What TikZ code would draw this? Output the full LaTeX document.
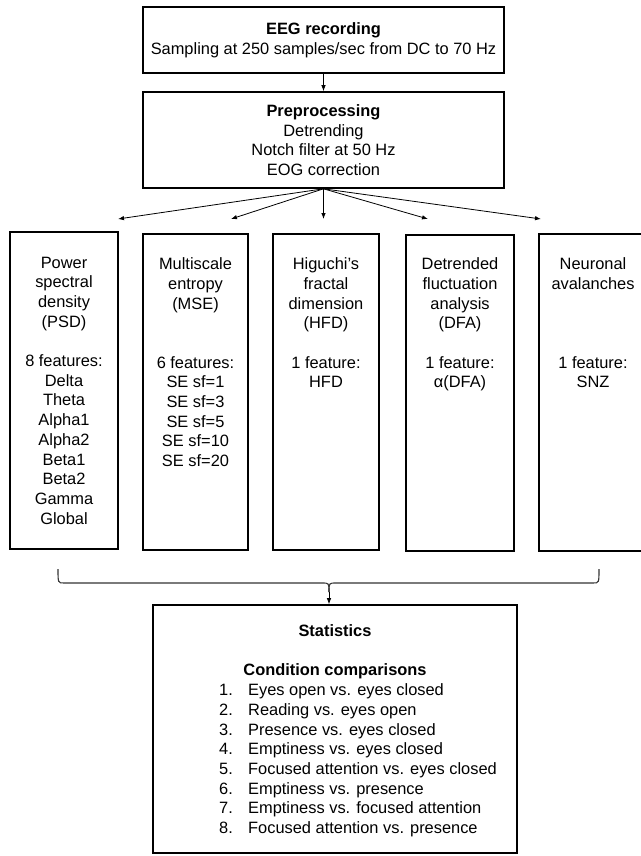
\documentclass[tikz,border=0pt]{standalone}
\usepackage{fontspec}
\setmainfont{Liberation Sans}
\usetikzlibrary{arrows.meta}
\begin{document}
\begin{tikzpicture}[x=1pt,y=-1pt,
  box/.style={draw, line width=1.6pt, inner sep=0pt},
  txt/.style={font=\fontsize{16.4}{19.7}\selectfont, align=center, inner sep=0pt},
  arr/.style={line width=0.8pt, -{Latex[length=6pt,width=4.5pt]}},
  bracel/.style={line width=1.1pt, draw=black!80}]
\useasboundingbox (0,0) rectangle (640,856);
% top boxes
\node[box, minimum width=361pt, minimum height=66pt] (eeg) at (323.5,40) {};
\node[txt] (eegt) at (eeg.center) {\textbf{EEG recording}\\Sampling at 250 samples/sec from DC to 70 Hz};
\node[box, minimum width=361pt, minimum height=96pt] (pre) at (323.5,140) {};
\node[txt] (pret) at (pre.center) {\textbf{Preprocessing}\\Detrending\\Notch filter at 50 Hz\\EOG correction};
\draw[arr] (eeg.south) -- (pre.north);
% feature boxes
\node[box, minimum width=108pt, minimum height=317pt] (psd) at (64,390.5) {};
\node[box, minimum width=105pt, minimum height=316pt] (mse) at (195.5,392) {};
\node[box, minimum width=106pt, minimum height=316pt] (hfd) at (326,392) {};
\node[box, minimum width=108pt, minimum height=316pt] (dfa) at (460,393) {};
\node[box, minimum width=108pt, minimum height=317pt] (neu) at (593,392.5) {};
\node[txt, anchor=north] (psdt) at (64,256.6) {Power\\spectral\\density\\(PSD)\\[19.7pt]8 features:\\Delta\\Theta\\Alpha1\\Alpha2\\Beta1\\Beta2\\Gamma\\Global};
\node[txt, anchor=north] (mset) at (195.5,257.6) {Multiscale\\entropy\\(MSE)\\[39.4pt]6 features:\\SE sf=1\\SE sf=3\\SE sf=5\\SE sf=10\\SE sf=20};
\node[txt, anchor=north] (hfdt) at (326,257.6) {Higuchi's\\fractal\\dimension\\(HFD)\\[19.7pt]1 feature:\\HFD};
\node[txt, anchor=north] (dfat) at (460,257.6) {Detrended\\fluctuation\\analysis\\(DFA)\\[19.7pt]1 feature:\\α(DFA)};
\node[txt, anchor=north] (neut) at (593,257.6) {Neuronal\\avalanches\\[59.1pt]1 feature:\\SNZ};
% arrows from preprocessing
\coordinate (t1) at (118,219);
\coordinate (t2) at (231,219);
\coordinate (t3) at (323.5,219);
\coordinate (t4) at (428,219);
\coordinate (t5) at (541,219);
\foreach \t in {t1,t2,t3,t4,t5} \draw[arr] (pre.south) -- (\t);
% statistics box
\node[box, minimum width=364pt, minimum height=248pt] (stat) at (335,729) {};
\node[txt, anchor=base] (statt) at (335,636.5) {\textbf{Statistics}};
\node[txt, anchor=base] (condt) at (335,675.5) {\textbf{Condition comparisons}};
\node[txt, align=left, anchor=north west] (list) at (219,683.6) {%
\makebox[29pt][l]{1.}Eyes open vs. eyes closed\\
\makebox[29pt][l]{2.}Reading vs. eyes open\\
\makebox[29pt][l]{3.}Presence vs. eyes closed\\
\makebox[29pt][l]{4.}Emptiness vs. eyes closed\\
\makebox[29pt][l]{5.}Focused attention vs. eyes closed\\
\makebox[29pt][l]{6.}Emptiness vs. presence\\
\makebox[29pt][l]{7.}Emptiness vs. focused attention\\
\makebox[29pt][l]{8.}Focused attention vs. presence};
% brace
\coordinate (bl) at (58,569);
\coordinate (br) at (599,569);
\coordinate (cusp) at (329,592);
\draw[bracel] (bl) .. controls (58,583) .. (64,583) -- (322,583) .. controls (329,583) .. (cusp);
\draw[bracel] (br) .. controls (599,583) .. (593,583) -- (336,583) .. controls (329,583) .. (cusp);
\draw[arr] (cusp) -- (cusp |- stat.north);
\end{tikzpicture}
\end{document}
